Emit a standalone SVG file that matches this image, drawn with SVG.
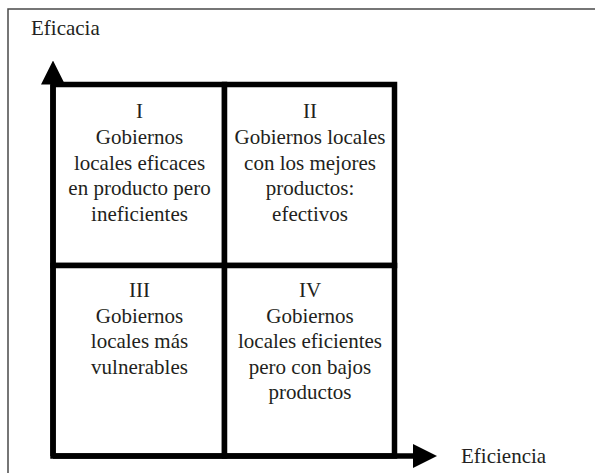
<svg xmlns="http://www.w3.org/2000/svg" width="595" height="473" viewBox="0 0 595 473">
<style>
.t{font-family:"Liberation Serif","Times New Roman",serif;font-size:21px;fill:#231f20;text-anchor:middle}
.lbl{font-family:"Liberation Serif","Times New Roman",serif;font-size:21px;fill:#231f20}
.cell{fill:#fff;stroke:#000;stroke-width:5.5}
.axis{stroke:#000;stroke-width:5.5;fill:none}
</style>
<defs>
<marker id="arr" markerUnits="userSpaceOnUse" viewBox="0 0 24 24" refX="0" refY="12" markerWidth="24" markerHeight="24" orient="auto">
<path d="M0,0 L24,12 L0,24 z" fill="#000"/>
</marker>
</defs>
<rect width="595" height="473" fill="#fff"/>
<path d="M8,473 L8,9 L595,9" fill="none" stroke="#4a4a4a" stroke-width="1.5"/>
<text class="lbl" x="31" y="35">Eficacia</text>
<text class="lbl" x="461" y="463">Eficiencia</text>
<g id="q1">
<rect class="cell" x="53" y="84.5" width="171.5" height="181"/>
<text class="t" x="139.5" y="118">I</text>
<text class="t" x="139.5" y="144">Gobiernos</text>
<text class="t" x="139.5" y="169.5">locales eficaces</text>
<text class="t" x="139.5" y="195">en producto pero</text>
<text class="t" x="139.5" y="220.5">ineficientes</text>
</g>
<g id="q2">
<rect class="cell" x="224.5" y="84.5" width="170" height="181"/>
<text class="t" x="310" y="118">II</text>
<text class="t" x="310" y="144">Gobiernos locales</text>
<text class="t" x="310" y="169.5">con los mejores</text>
<text class="t" x="310" y="195">productos:</text>
<text class="t" x="310" y="220.5">efectivos</text>
</g>
<g id="q3">
<rect class="cell" x="53" y="265.5" width="171.5" height="190.5"/>
<text class="t" x="139.5" y="297">III</text>
<text class="t" x="139.5" y="322.5">Gobiernos</text>
<text class="t" x="139.5" y="348">locales más</text>
<text class="t" x="139.5" y="373.5">vulnerables</text>
</g>
<g id="q4">
<rect class="cell" x="224.5" y="265.5" width="170" height="190.5"/>
<text class="t" x="310" y="297">IV</text>
<text class="t" x="310" y="322.5">Gobiernos</text>
<text class="t" x="310" y="348">locales eficientes</text>
<text class="t" x="310" y="373.5">pero con bajos</text>
<text class="t" x="310" y="399">productos</text>
</g>
<g id="connectors">
<path class="axis" d="M53,456 L53,84.5" marker-end="url(#arr)"/>
<path class="axis" d="M53,456 L413,456" marker-end="url(#arr)"/>
</g>
</svg>
